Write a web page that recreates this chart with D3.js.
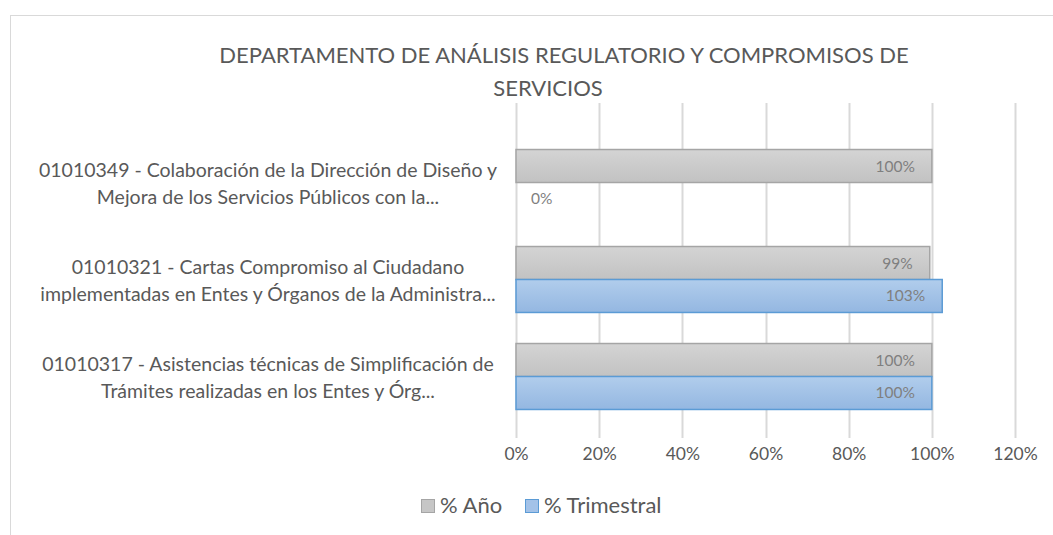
<!DOCTYPE html>
<html>
<head>
<meta charset="utf-8">
<script src="https://cdn.jsdelivr.net/npm/d3@7"></script>
<style>
  body { margin: 0; background: #fff; }
  svg { display: block; font-family: Lato, "Open Sans", sans-serif; }
</style>
</head>
<body>
<svg id="chart" width="1053" height="535"></svg>
<script>
// chart data
var categories = [
    ["01010349 - Colaboración de la Dirección de Diseño y", "Mejora de los Servicios Públicos con la..."],
    ["01010321 - Cartas Compromiso al Ciudadano", "implementadas en Entes y Órganos de la Administra..."],
    ["01010317 - Asistencias técnicas de Simplificación de", "Trámites realizadas en los Entes y Órg..."]
];
var seriesNames = ["% Año", "% Trimestral"];
var anio = [1.00, 0.995, 1.00];
var trimestral = [0, 1.025, 1.00];
var anioLabels = ["100%", "99%", "100%"];
var trimLabels = ["0%", "103%", "100%"];
var tickValues = [0, 0.2, 0.4, 0.6, 0.8, 1.0, 1.2];
var titleLines = ["DEPARTAMENTO DE ANÁLISIS REGULATORIO Y COMPROMISOS DE", "SERVICIOS"];

var TEXT = "#595959";
var svg = d3.select("#chart");
var defs = svg.append("defs");

function gradient(id, c1, c2) {
    var g = defs.append("linearGradient").attr("id", id)
        .attr("x1", 0).attr("y1", 0).attr("x2", 0).attr("y2", 1);
    g.append("stop").attr("offset", "0%").attr("stop-color", c1);
    g.append("stop").attr("offset", "100%").attr("stop-color", c2);
}
gradient("gAnio", "#d4d4d4", "#c2c2c2");
gradient("gTrim", "#b1cdec", "#94b7e1");

var colors = [
    { fill: "url(#gAnio)", stroke: "#a5a5a5", swatch: "#c6c6c6" },
    { fill: "url(#gTrim)", stroke: "#5b9bd5", swatch: "#a3c2e8" }
];

// outer chart border (runs off the right and bottom edges)
svg.append("rect")
    .attr("x", 10.5).attr("y", 15.5)
    .attr("width", 1100).attr("height", 600)
    .attr("fill", "none").attr("stroke", "#d9d9d9");

// title
var title = svg.append("text")
    .attr("text-anchor", "middle")
    .attr("fill", TEXT)
    .style("font-size", "22px");
title.append("tspan").attr("x", 564).attr("y", 63).text(titleLines[0]);
title.append("tspan").attr("x", 548).attr("y", 96).text(titleLines[1]);

var plot = { left: 516, right: 1015, top: 103, bottom: 438 };

var x = d3.scaleLinear().domain([0, 1.2]).range([plot.left, plot.right]);
var y = d3.scaleBand()
    .domain(d3.range(categories.length))
    .range([134, 425])
    .paddingInner(0.32).paddingOuter(0.16);

// gridlines
svg.append("g")
    .selectAll("line")
    .data(tickValues)
    .join("line")
    .attr("x1", function (d) { return Math.round(x(d)) + 0.5; })
    .attr("x2", function (d) { return Math.round(x(d)) + 0.5; })
    .attr("y1", plot.top).attr("y2", plot.bottom)
    .attr("stroke", "#d9d9d9").attr("stroke-width", 2);

// x axis labels
var xAxis = d3.axisBottom(x)
    .tickValues(tickValues)
    .tickSize(0)
    .tickPadding(10)
    .tickFormat(d3.format(".0%"));
var axisG = svg.append("g")
    .attr("transform", "translate(0," + plot.bottom + ")")
    .call(xAxis);
axisG.select(".domain").remove();
axisG.selectAll("text").attr("fill", TEXT)
    .style("font-family", "Lato, sans-serif")
    .style("font-size", "17.5px");

// category labels
var catG = svg.append("g");
categories.forEach(function (lines, i) {
    var cy = y(i) + y.bandwidth() / 2;
    var t = catG.append("text")
        .attr("text-anchor", "middle")
        .attr("fill", TEXT)
        .style("font-size", "19.5px");
    lines.forEach(function (line, j) {
        t.append("tspan")
            .attr("x", 268)
            .attr("y", cy - 6 + j * 27.5)
            .text(line);
    });
});

// bars
var barH = y.bandwidth() / 2;
var series = [anio, trimestral];
var labels = [anioLabels, trimLabels];
series.forEach(function (vals, s) {
    var g = svg.append("g");
    g.selectAll("rect")
        .data(vals)
        .join("rect")
        .attr("x", x(0))
        .attr("y", function (d, i) { return y(i) + s * barH; })
        .attr("width", function (d) { return x(d) - x(0); })
        .attr("height", barH)
        .attr("fill", colors[s].fill)
        .attr("stroke", function (d) { return d > 0 ? colors[s].stroke : "none"; })
        .attr("stroke-width", 1.5);

    g.selectAll("text")
        .data(vals)
        .join("text")
        .attr("x", function (d) { return d > 0 ? x(d) - 17 : x(0) + 15; })
        .attr("y", function (d, i) { return y(i) + s * barH + barH / 2 + 5.5; })
        .attr("text-anchor", function (d) { return d > 0 ? "end" : "start"; })
        .attr("fill", "#7f7f7f")
        .style("font-size", "15.5px")
        .text(function (d, i) { return labels[s][i]; });
});

// legend
var legend = svg.append("g").attr("transform", "translate(421,513)");
var items = [{ name: seriesNames[0], x: 0 }, { name: seriesNames[1], x: 104 }];
items.forEach(function (it, s) {
    legend.append("rect")
        .attr("x", it.x + 0.5).attr("y", -13.5)
        .attr("width", 13).attr("height", 13)
        .attr("fill", colors[s].swatch)
        .attr("stroke", colors[s].stroke);
    legend.append("text")
        .attr("x", it.x + 19).attr("y", 0)
        .attr("fill", TEXT)
        .style("font-size", "22px")
        .text(it.name);
});
</script>
</body>
</html>
